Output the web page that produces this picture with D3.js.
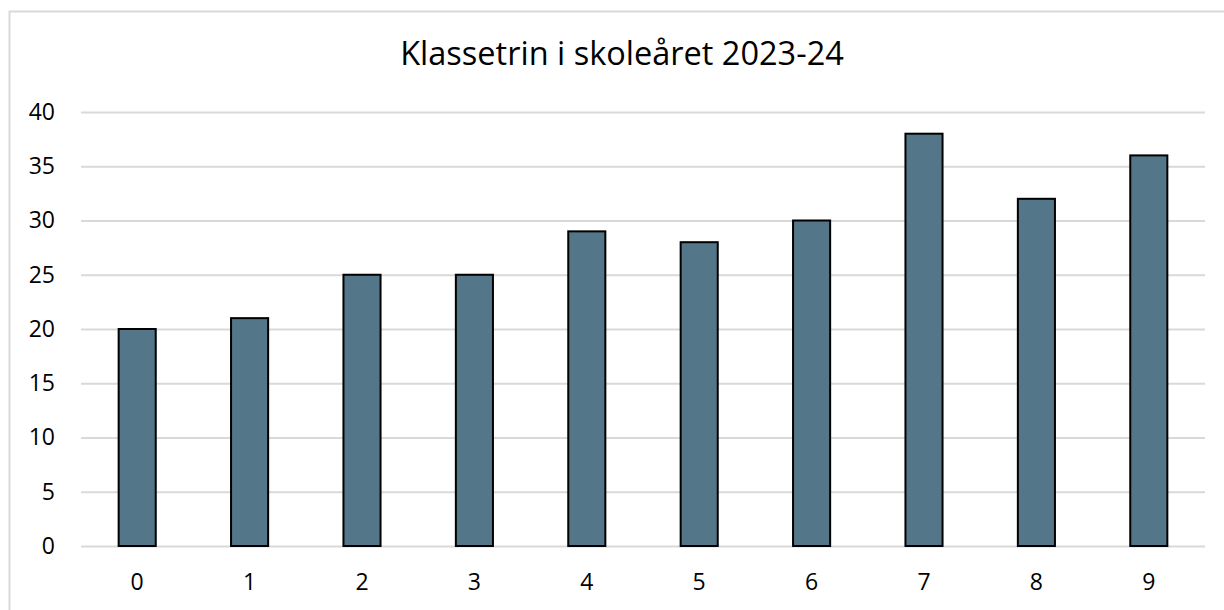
<!DOCTYPE html>
<html><head><meta charset="utf-8">
<script src="https://cdn.jsdelivr.net/npm/d3@7"></script>
<style>body{margin:0;background:#fff;}svg{display:block;}</style>
</head><body>
<svg id="c" width="1224" height="610"></svg>
<script>
const title = "Klassetrin i skoleåret 2023-24";
const categories = ["0","1","2","3","4","5","6","7","8","9"];
const values = [20, 21, 25, 25, 29, 28, 30, 38, 32, 36];
const yTicks = [0, 5, 10, 15, 20, 25, 30, 35, 40];

const svg = d3.select("#c");
const font = "'Open Sans', sans-serif";
const m = {left: 81, right: 1205, top: 112, bottom: 546};

svg.append("rect").attr("x", 9.5).attr("y", 11.5).attr("width", 1230).attr("height", 620)
  .attr("fill", "#fff").attr("stroke", "#d9d9d9").attr("stroke-width", 2);

const x = d3.scaleBand().domain(categories).range([m.left, m.right]).paddingInner(0.67).paddingOuter(0.335);
const y = d3.scaleLinear().domain([0, 40]).range([m.bottom, m.top]);

const yAxis = svg.append("g").attr("transform", `translate(${m.left},0)`)
  .call(d3.axisLeft(y).tickValues(yTicks).tickSize(-(m.right - m.left)).tickPadding(26));
yAxis.select(".domain").remove();
yAxis.selectAll(".tick line").attr("stroke", "#d9d9d9").attr("stroke-width", 2);
yAxis.selectAll(".tick text").attr("font-family", font).attr("font-size", 23).attr("fill", "#000");

svg.selectAll(".bar").data(values).join("rect").attr("class", "bar")
  .attr("x", (d, i) => x(categories[i]))
  .attr("y", d => y(d))
  .attr("width", x.bandwidth())
  .attr("height", d => y(0) - y(d))
  .attr("fill", "#537688").attr("stroke", "#000").attr("stroke-width", 2);

const xAxis = svg.append("g").attr("transform", `translate(0,${m.bottom})`)
  .call(d3.axisBottom(x).tickSize(0).tickPadding(28));
xAxis.select(".domain").remove();
xAxis.selectAll(".tick text").attr("font-family", font).attr("font-size", 23).attr("fill", "#000");

svg.append("text").attr("x", 622).attr("y", 65).attr("text-anchor", "middle")
  .attr("font-family", font).attr("font-size", 32.5).attr("fill", "#000").text(title);
</script>
</body></html>
